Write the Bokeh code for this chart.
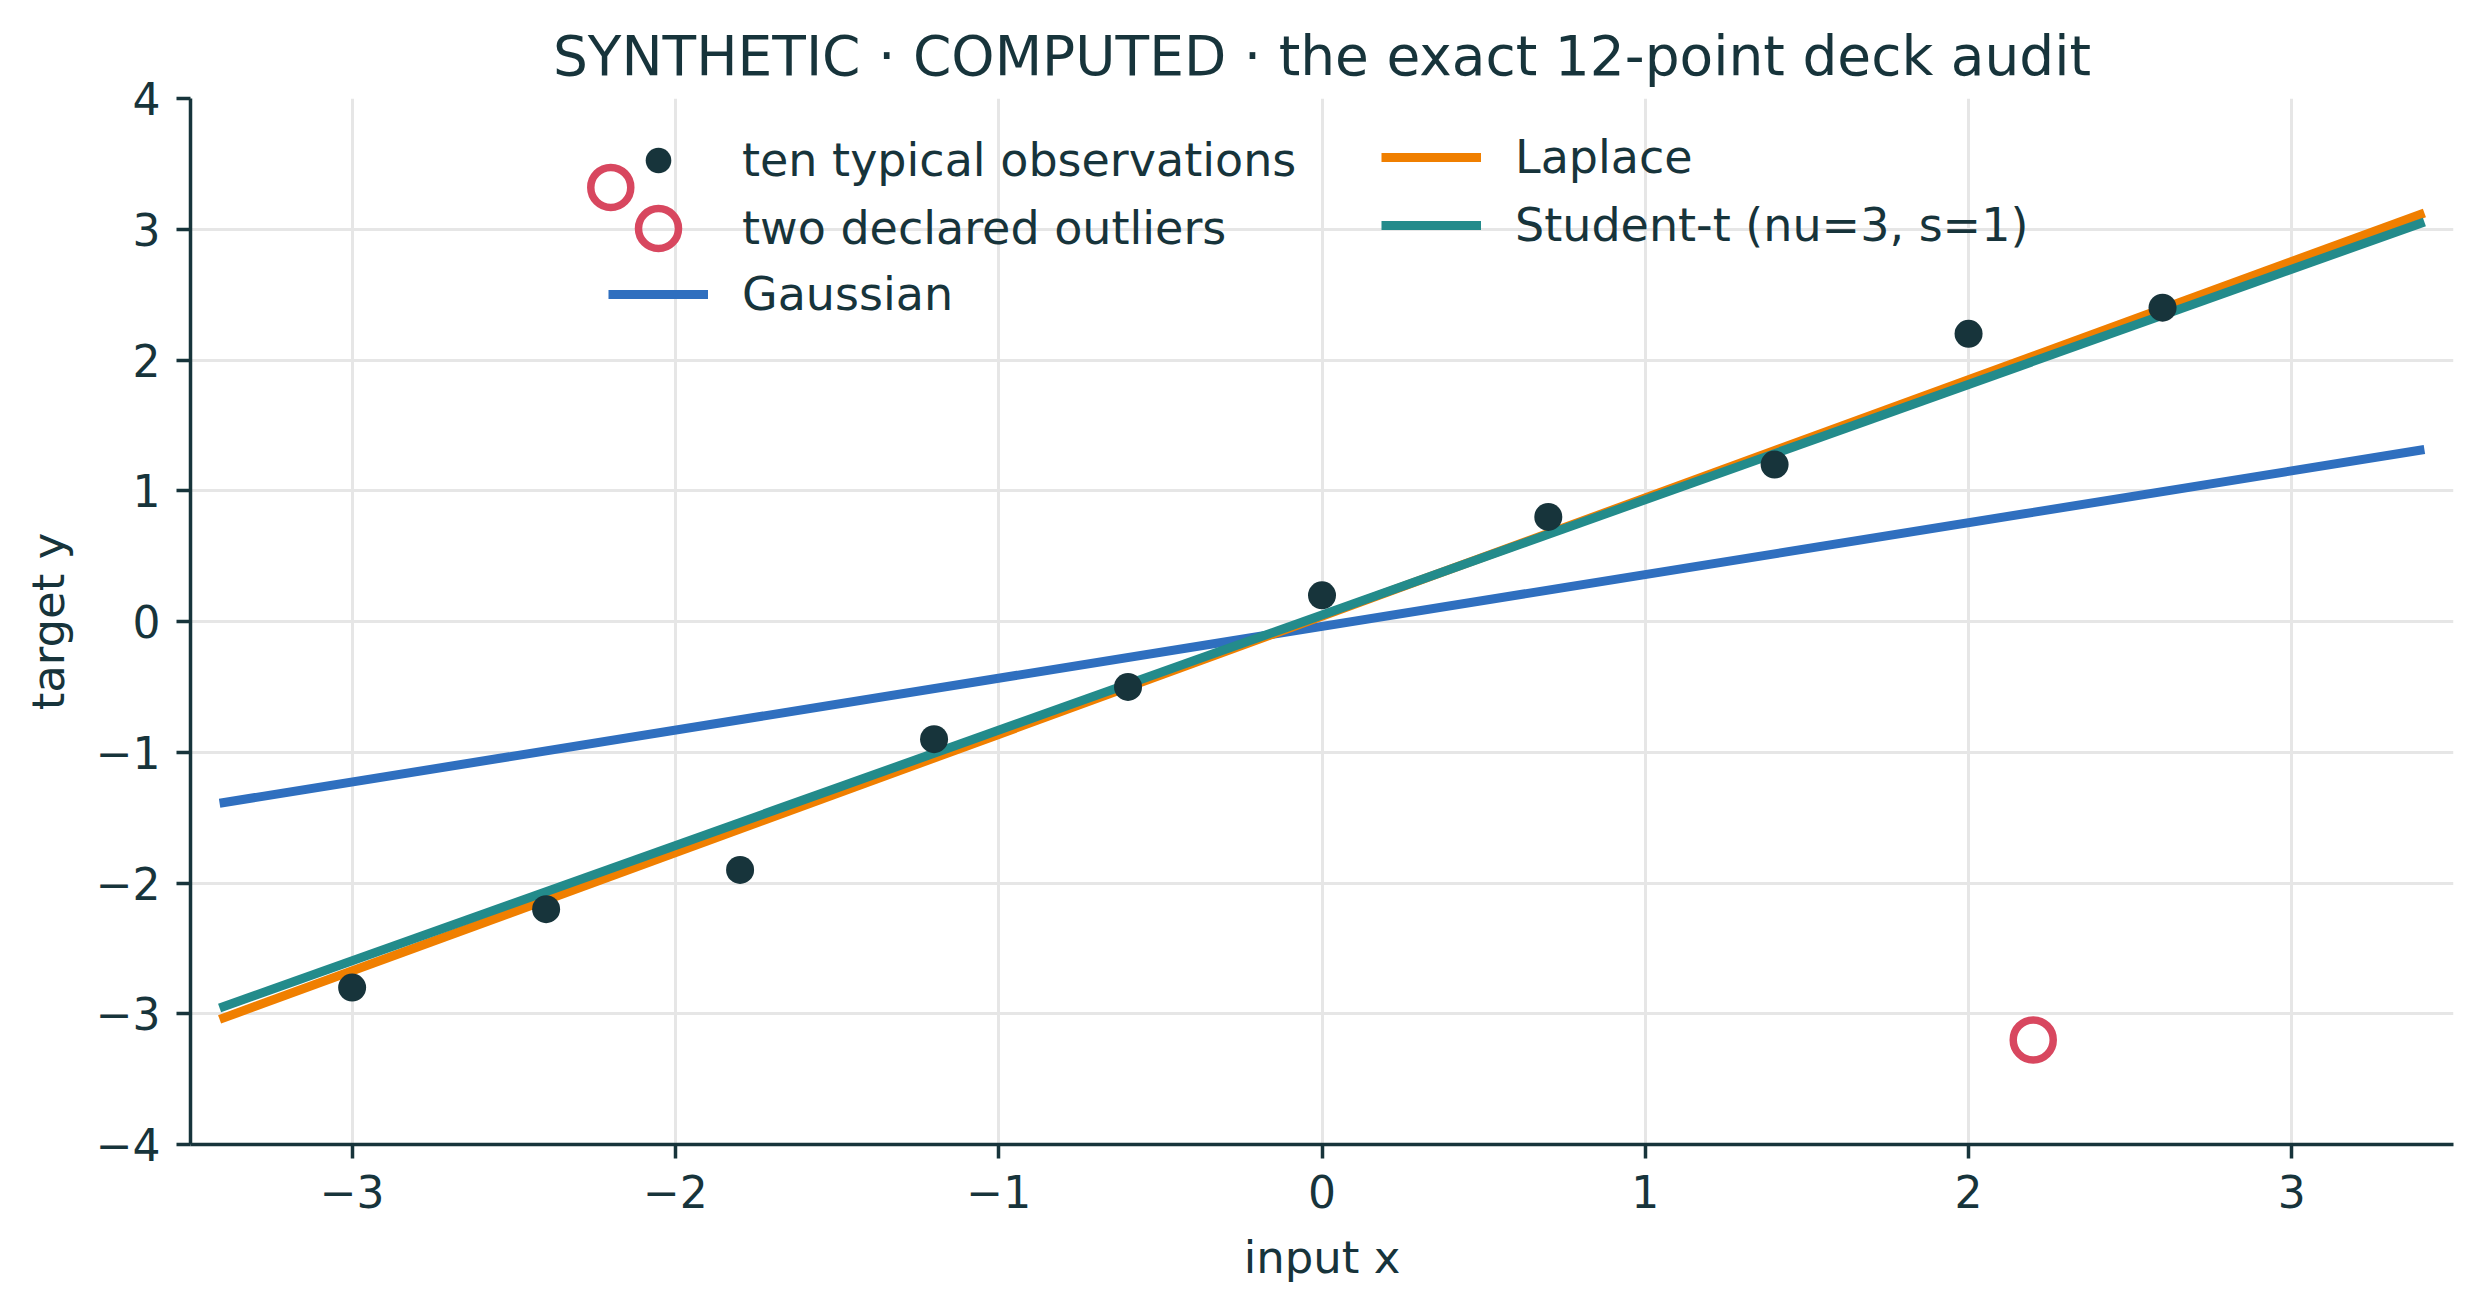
from bokeh.plotting import figure
from bokeh.models import Legend, LegendItem, FixedTicker, Range1d
from bokeh.embed import file_html
from bokeh.resources import INLINE

# ---- data ----
typical_x = [-3.0, -2.4, -1.8, -1.2, -0.6, 0.0, 0.7, 1.4, 2.0, 2.6]
typical_y = [-2.8, -2.2, -1.9, -0.9, -0.5, 0.2, 0.8, 1.2, 2.2, 2.4]
outlier_x = [-2.2, 2.2]
outlier_y = [3.32, -3.2]
fit_x = [-3.41, 3.41]
gaussian_y = [-1.39, 1.315]
laplace_y = [-3.043, 3.125]
student_y = [-2.956, 3.056]
x_ticks = [-3, -2, -1, 0, 1, 2, 3]
y_ticks = [-4, -3, -2, -1, 0, 1, 2, 3, 4]

TEXT = "#17343b"
FONT = "DejaVu Sans"
C_DOT = "#17343b"
C_OUT = "#d8475f"
C_GAU = "#2f6fbf"
C_LAP = "#f07f00"
C_STU = "#238b8b"

p = figure(
    frame_width=2263, frame_height=1046,
    min_border_left=190, min_border_right=12,
    min_border_top=98, min_border_bottom=151,
    x_range=Range1d(-3.5, 3.5), y_range=Range1d(-4, 4),
    output_backend="svg", toolbar_location=None,
    background_fill_color="white", border_fill_color="white",
)
p.outline_line_color = None

p.title.text = "SYNTHETIC \u00b7 COMPUTED \u00b7 the exact 12-point deck audit"
p.title.text_font = FONT
p.title.text_font_size = "55px"
p.title.text_font_style = "normal"
p.title.text_color = TEXT
p.title.align = "center"
p.title.standoff = 22

for ax, ticks, label in ((p.xaxis[0], x_ticks, "input x"), (p.yaxis[0], y_ticks, "target y")):
    ax.ticker = FixedTicker(ticks=ticks)
    ax.major_label_overrides = {t: str(t).replace("-", "\u2212") for t in ticks}
    ax.axis_label = label
    ax.axis_label_text_font = FONT
    ax.axis_label_text_font_size = "45px"
    ax.axis_label_text_font_style = "normal"
    ax.axis_label_text_color = TEXT
    ax.major_label_text_font = FONT
    ax.major_label_text_font_size = "44px"
    ax.major_label_text_color = TEXT
    ax.axis_line_color = TEXT
    ax.axis_line_width = 3.5
    ax.major_tick_line_color = TEXT
    ax.major_tick_line_width = 3.5
    ax.major_tick_out = 14
    ax.major_tick_in = 0
    ax.minor_tick_line_color = None
p.xaxis[0].major_label_standoff = 16
p.xaxis[0].axis_label_standoff = 20
p.yaxis[0].major_label_standoff = 16
p.yaxis[0].axis_label_standoff = 18

for g, ticks in ((p.xgrid[0], x_ticks), (p.ygrid[0], y_ticks)):
    g.ticker = FixedTicker(ticks=ticks)
    g.grid_line_color = "#e6e6e6"
    g.grid_line_width = 3

r_gau = p.line(fit_x, gaussian_y, line_color=C_GAU, line_width=9)
r_lap = p.line(fit_x, laplace_y, line_color=C_LAP, line_width=9)
r_stu = p.line(fit_x, student_y, line_color=C_STU, line_width=9)
r_dot = p.scatter(typical_x, typical_y, size=28, fill_color=C_DOT, line_color=C_DOT, line_width=0)
r_out = p.scatter(outlier_x, outlier_y, size=40, fill_color=None, line_color=C_OUT, line_width=7.5)


def add_legend(items, vx, vy, gh):
    lg = Legend(
        items=[LegendItem(label=lab, renderers=[r]) for lab, r in items],
        location=(vx, vy), orientation="vertical",
        glyph_width=100, glyph_height=gh, label_height=gh,
        label_standoff=34, spacing=4, padding=0, margin=0,
        label_text_font=FONT, label_text_font_size="46px", label_text_color=TEXT,
        border_line_color=None, background_fill_alpha=0,
    )
    p.add_layout(lg, "center")


add_legend([("ten typical observations", r_dot)], 418, 952, 64)
add_legend([("two declared outliers", r_out)], 418, 866, 100)
add_legend([("Gaussian", r_gau)], 418, 818, 64)
add_legend([("Laplace", r_lap), ("Student-t (nu=3, s=1)", r_stu)], 1191, 887, 64)

open("out.html", "w").write(file_html(p, INLINE))
